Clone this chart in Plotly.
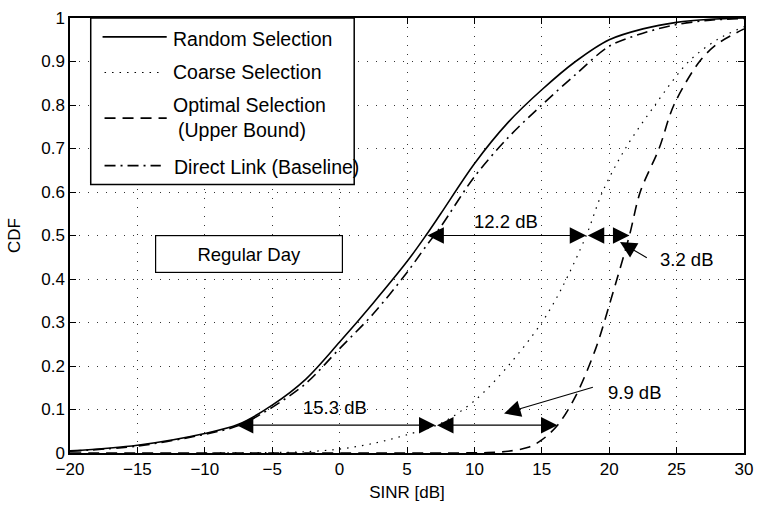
import numpy as np
import plotly.graph_objects as go

# ---- data ----
random_x = [-20, -15, -10, -7.5, -5, -2.5, 0, 2.5, 5, 6.4, 7.5, 10, 12.5, 15, 17.5, 20, 22.5, 25, 27.5, 30]
random_y = [0.005, 0.018, 0.045, 0.066, 0.11, 0.17, 0.255, 0.345, 0.44, 0.50, 0.55, 0.665, 0.76, 0.835, 0.90, 0.95, 0.975, 0.99, 0.997, 1.0]

coarse_x = [-10, -5, -2.5, 0, 2.5, 5, 7.5, 10, 12.5, 15, 16.5, 18.3, 19.5, 21.2, 23.4, 25.9, 28, 30]
coarse_y = [0.0, 0.001, 0.003, 0.009, 0.022, 0.042, 0.068, 0.12, 0.2, 0.3, 0.38, 0.5, 0.6, 0.7, 0.8, 0.9, 0.95, 0.98]

optimal_x = [-20, 8, 11, 12.5, 14, 15, 16.2, 17.5, 19, 20.1, 21.5, 22.3, 23.7, 24.8, 26.7, 28, 30]
optimal_y = [0.0, 0.0, 0.001, 0.004, 0.013, 0.03, 0.065, 0.13, 0.24, 0.35, 0.5, 0.6, 0.7, 0.8, 0.9, 0.94, 0.975]

direct_x = [-20, -15, -10, -7.5, -5, -2.5, 0, 2.5, 5, 6.4, 7.5, 10, 12.5, 15, 17.5, 20, 22.5, 25, 27.5, 30]
direct_y = [0.004, 0.016, 0.043, 0.063, 0.105, 0.16, 0.24, 0.32, 0.415, 0.475, 0.52, 0.635, 0.725, 0.80, 0.87, 0.935, 0.965, 0.985, 0.995, 0.999]

series_names = ["Random Selection", "Coarse Selection", "Optimal Selection", "Direct Link (Baseline)"]
optimal_sub = "(Upper Bound)"

x_ticks = [-20, -15, -10, -5, 0, 5, 10, 15, 20, 25, 30]
y_ticks = [0, 0.1, 0.2, 0.3, 0.4, 0.5, 0.6, 0.7, 0.8, 0.9, 1]
y_tick_labels = ["0", "0.1", "0.2", "0.3", "0.4", "0.5", "0.6", "0.7", "0.8", "0.9", "1"]

gap_labels_mid = ["12.2 dB", "3.2 dB"]
gap_labels_low = ["15.3 dB", "9.9 dB"]
mid_level = 0.5
low_level = 0.064

FONT = "Liberation Sans, Arial, sans-serif"

# plot-area geometry (page pixels of the reference)
PL, PR, PT, PB = 70, 753, 14, 453
W, H = 762, 511

def px(X):
    return (X - PL) / (PR - PL)

def py(Y):
    return (PB - Y) / (PB - PT)

fig = go.Figure()
styles = [
    dict(color="black", width=1.6, dash="solid"),
    dict(color="black", width=1.2, dash="1.5px,6px"),
    dict(color="black", width=1.6, dash="11px,7px"),
    dict(color="black", width=1.6, dash="11px,5px,2px,5px"),
]
data = [(random_x, random_y), (coarse_x, coarse_y), (optimal_x, optimal_y), (direct_x, direct_y)]
for (xs, ys), name, st in zip(data, series_names, styles):
    fig.add_trace(go.Scatter(x=xs, y=ys, mode="lines", name=name, showlegend=False,
                             line=dict(shape="spline", smoothing=0.9, **st)))

def cross(xs, ys, level):
    return float(np.interp(level, ys, xs))

r_mid = cross(random_x, random_y, mid_level)
c_mid = cross(coarse_x, coarse_y, mid_level)
o_mid = cross(optimal_x[1:], optimal_y[1:], mid_level)
r_low = cross(random_x, random_y, low_level)
c_low = cross(coarse_x, coarse_y, low_level)
o_low = cross(optimal_x[1:], optimal_y[1:], low_level)

AS = 3.0
def dbl(x0, x1, y):
    fig.add_annotation(x=x1, y=y, ax=x0, ay=y, xref="x", yref="y", axref="x", ayref="y",
                       text="", showarrow=True, arrowside="end+start",
                       arrowhead=2, startarrowhead=2, arrowsize=AS, startarrowsize=AS,
                       arrowwidth=1.1, arrowcolor="black", standoff=0, startstandoff=0)

dbl(r_mid, c_mid, mid_level)
dbl(c_mid, o_mid, mid_level)
dbl(r_low, c_low, low_level)
dbl(c_low, o_low, low_level)

tfont = dict(family=FONT, size=18.5, color="black")
fig.add_annotation(x=(r_mid + c_mid) / 2, y=mid_level, yshift=14, text=gap_labels_mid[0],
                   showarrow=False, font=tfont)
fig.add_annotation(x=(r_low + c_low) / 2, y=low_level, yshift=18, text=gap_labels_low[0],
                   showarrow=False, font=tfont)
fig.add_annotation(x=20.8, y=0.485, ax=22.9, ay=0.447, axref="x", ayref="y",
                   text="", showarrow=True, arrowhead=2, arrowsize=AS, arrowwidth=1.1,
                   arrowcolor="black", standoff=0)
fig.add_annotation(x=25.75, y=0.444, text=gap_labels_mid[1], showarrow=False, font=tfont)
fig.add_annotation(x=12.2, y=0.091, ax=18.9, ay=0.152, axref="x", ayref="y",
                   text="", showarrow=True, arrowhead=2, arrowsize=AS, arrowwidth=1.1,
                   arrowcolor="black", standoff=0)
fig.add_annotation(x=21.9, y=0.14, text=gap_labels_low[1], showarrow=False, font=tfont)

# scenario label box
fig.add_annotation(x=-6.75, y=0.458, text="Regular Day", showarrow=False, font=tfont,
                   width=186, height=36, bordercolor="black", borderwidth=1.2,
                   bgcolor="white", borderpad=0)

# ---- legend box drawn in paper coordinates ----
fig.add_shape(type="rect", xref="paper", yref="paper", x0=px(91), x1=px(358), y0=py(182), y1=py(14),
              line=dict(color="black", width=1.5), fillcolor="white", layer="above")
leg_line_y = [33, 69, 115, 163]
leg_line_x = [(103, 168), (105, 160), (105, 168), (105, 162)]
for (x0, x1), yl, st in zip(leg_line_x, leg_line_y, styles):
    fig.add_shape(type="line", xref="paper", yref="paper", x0=px(x0), x1=px(x1), y0=py(yl), y1=py(yl),
                  line=dict(color=st["color"], width=st["width"], dash=st["dash"]), layer="above")
lfont = dict(family=FONT, size=19.5, color="black")
leg_text = [(series_names[0], 172, 35), (series_names[1], 172, 68), (series_names[2], 172, 102),
            (optimal_sub, 177, 127), (series_names[3], 173, 164)]
for txt, xt, yt in leg_text:
    fig.add_annotation(xref="paper", yref="paper", x=px(xt), y=py(yt), text=txt, showarrow=False,
                       xanchor="left", yanchor="middle", font=lfont)

axis_common = dict(showline=True, linecolor="black", linewidth=1.5, mirror="ticks",
                   ticks="inside", ticklen=6, tickcolor="black", tickwidth=1,
                   showgrid=True, gridcolor="#333", gridwidth=1, griddash="1px,8px",
                   zeroline=False, ticklabeloverflow="allow",
                   tickfont=dict(family=FONT, size=17, color="black"))

fig.update_xaxes(range=[-20, 30], tickvals=x_ticks,
                 title=dict(text="SINR [dB]", font=dict(family=FONT, size=17, color="black"), standoff=8),
                 **axis_common)
fig.update_yaxes(range=[0, 1], tickvals=y_ticks, ticktext=y_tick_labels,
                 title=dict(text="CDF", font=dict(family=FONT, size=17, color="black"), standoff=16),
                 **axis_common)

fig.update_layout(
    width=W, height=H, autosize=False,
    margin=dict(l=PL, r=W - PR, t=PT, b=H - PB),
    plot_bgcolor="white", paper_bgcolor="white",
    showlegend=False,
)

fig.write_html("out.html", config={"displayModeBar": False, "responsive": False},
               post_script="document.body.style.margin='0px';")
